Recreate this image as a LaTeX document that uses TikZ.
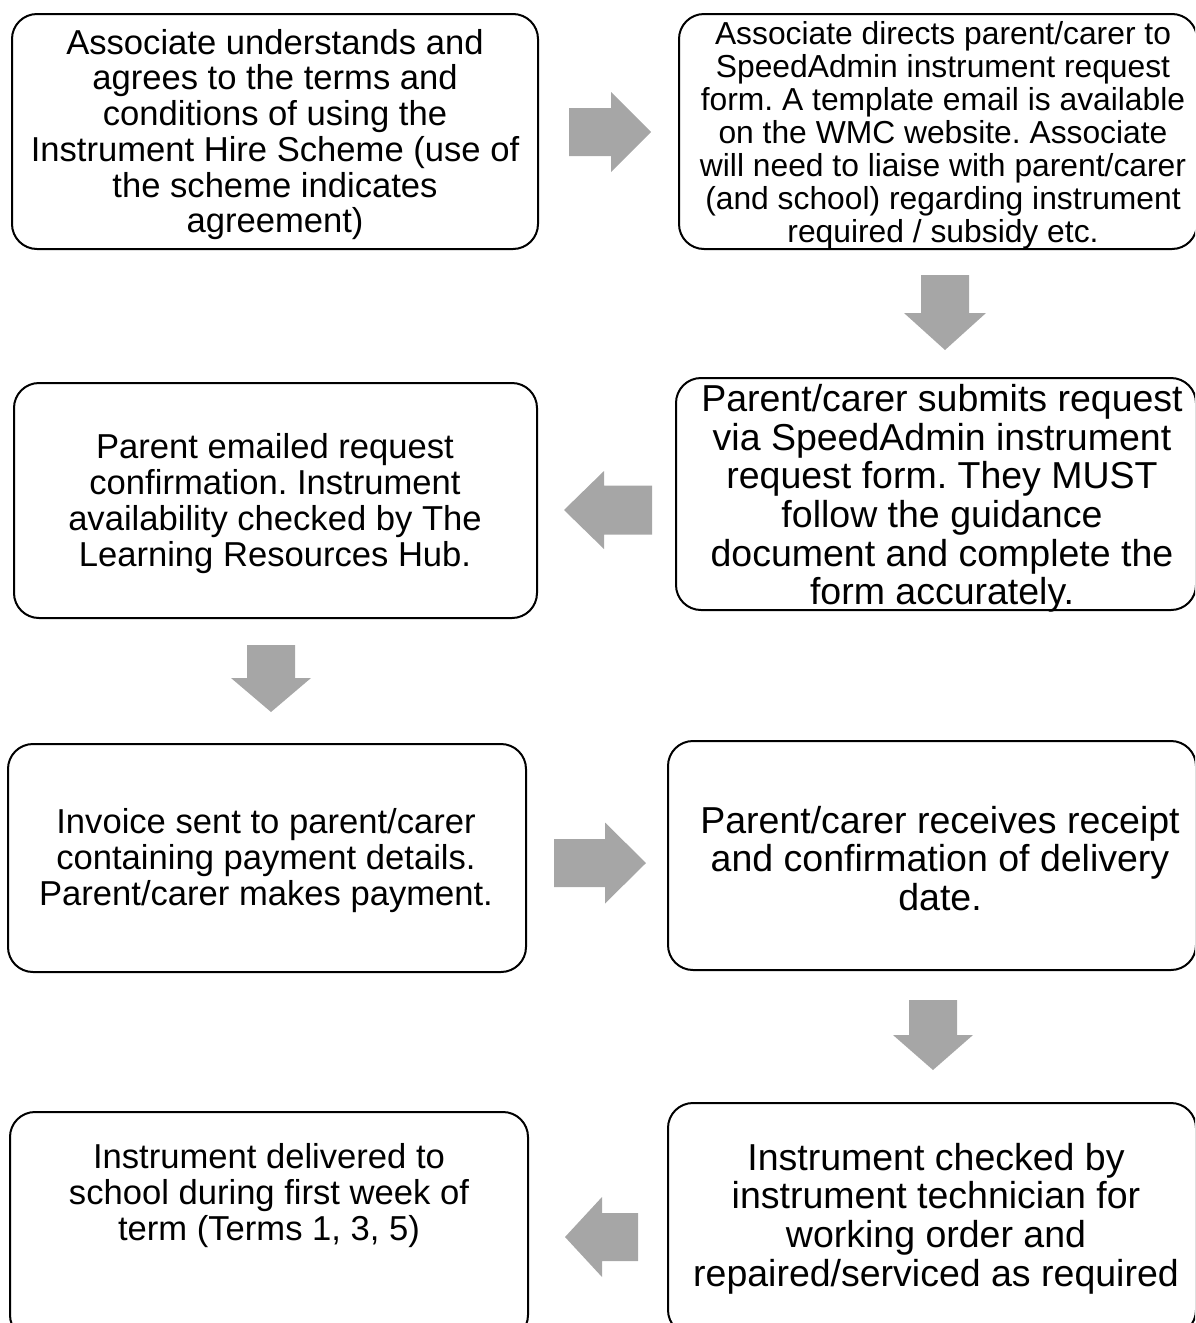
\documentclass[tikz,border=0pt]{standalone}
\usepackage{fontspec}
\setmainfont{Liberation Sans}
\definecolor{arrowgray}{RGB}{166,166,166}
\tikzset{
  stepbox/.style={draw=black, line width=2pt, rounded corners=25pt, fill=white, inner sep=0pt},
  txtM/.style={align=center, inner sep=0pt, yshift=-3.5pt, font=\frenchspacing\fontsize{34.6}{35.7}\selectfont},
  txtS/.style={align=center, inner sep=0pt, yshift=-3.5pt, font=\frenchspacing\fontsize{31.8}{33}\selectfont},
  txtL/.style={align=center, inner sep=0pt, yshift=-3.5pt, font=\frenchspacing\fontsize{37.5}{38.6}\selectfont},
}
\newcommand\blockarrow[8]{% name, cx, cy, angle, length, headwidth, shaftwidth, headlength
  \begin{scope}[shift={(#2,#3)}, rotate=#4]
    \pgfmathsetmacro\arrHalfL{#5/2}
    \pgfmathsetmacro\arrBase{#5/2-#8}
    \pgfmathsetmacro\arrShaft{#7/2}
    \pgfmathsetmacro\arrHead{#6/2}
    \fill[arrowgray] (-\arrHalfL,-\arrShaft) -- (\arrBase,-\arrShaft) -- (\arrBase,-\arrHead)
      -- (\arrHalfL,0) -- (\arrBase,\arrHead) -- (\arrBase,\arrShaft) -- (-\arrHalfL,\arrShaft) -- cycle;
    \coordinate (#1) at (0,0);
  \end{scope}}
\begin{document}
\begin{tikzpicture}[x=1pt, y=-1pt]
\useasboundingbox (0,0) rectangle (1195,1323);
\clip (0,0) rectangle (1195,1323);

% boxes
\node[stepbox, minimum width=526pt, minimum height=235pt] (b1) at (275,131.5) {};
\node[stepbox, minimum width=518pt, minimum height=235pt] (b2) at (938,131.5) {};
\node[stepbox, minimum width=523pt, minimum height=235pt] (b3) at (275.5,500.5) {};
\node[stepbox, minimum width=520pt, minimum height=232pt] (b4) at (936,494) {};
\node[stepbox, minimum width=518pt, minimum height=228pt] (b5) at (267,858) {};
\node[stepbox, minimum width=528pt, minimum height=229pt] (b6) at (932,855.5) {};
\node[stepbox, minimum width=518pt, minimum height=228pt] (b7) at (269,1226) {};
\node[stepbox, minimum width=528pt, minimum height=232pt] (b8) at (932,1219) {};

% texts
\node[txtM] (t1) at (275,131) {Associate understands and\\agrees to the terms and\\conditions of using the\\Instrument Hire Scheme (use of\\the scheme indicates\\agreement)};
\node[txtS] (t2) at (943,132) {Associate directs parent/carer to\\SpeedAdmin instrument request\\form. A template email is available\\on the WMC website. Associate\\will need to liaise with parent/carer\\(and school) regarding instrument\\required / subsidy etc.};
\node[txtM] (t3) at (275,500) {Parent emailed request\\confirmation. Instrument\\availability checked by The\\Learning Resources Hub.};
\node[txtL] (t4) at (942,495) {Parent/carer submits request\\via SpeedAdmin instrument\\request form. They MUST\\follow the guidance\\document and complete the\\form accurately.};
\node[txtM] (t5) at (266,857) {Invoice sent to parent/carer\\containing payment details.\\Parent/carer makes payment.};
\node[txtL] (t6) at (940,855) {Parent/carer receives receipt\\and confirmation of delivery\\date.};
\node[txtM] (t7) at (269,1192) {Instrument delivered to\\school during first week of\\term (Terms 1, 3, 5)};
\node[txtL] (t8) at (936,1215) {Instrument checked by\\instrument technician for\\working order and\\repaired/serviced as required};

% block arrows
\blockarrow{a1}{610}{132}{0}{82}{80}{48}{40}
\blockarrow{a2}{945}{312.5}{-90}{75}{82}{48}{37}
\blockarrow{a3}{608}{510}{180}{88}{78}{49}{40}
\blockarrow{a4}{271}{678.5}{-90}{67}{80}{48}{34}
\blockarrow{a5}{600}{863}{0}{92}{81}{48}{41}
\blockarrow{a6}{933}{1035}{-90}{70}{80}{48}{35}
\blockarrow{a7}{601.5}{1237}{180}{73}{80}{48}{37}
\end{tikzpicture}
\end{document}
